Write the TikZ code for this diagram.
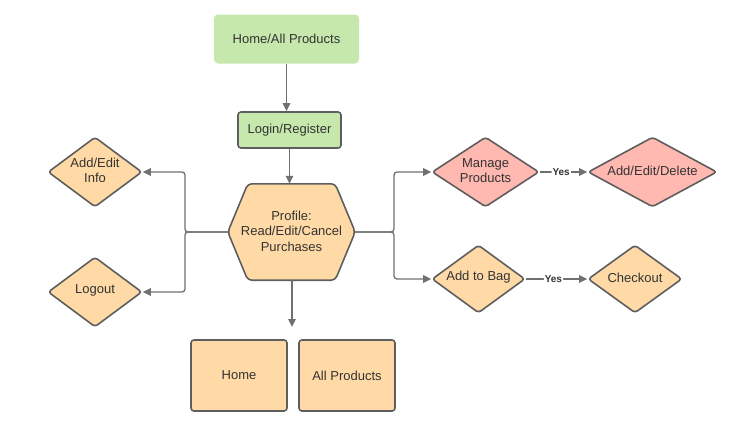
\documentclass[tikz,border=0pt]{standalone}
\usepackage{fontspec}
\setmainfont{Liberation Sans}
\usetikzlibrary{shapes.geometric,arrows.meta}
\definecolor{gfill}{HTML}{C7E8AC}
\definecolor{ofill}{HTML}{FFDAA6}
\definecolor{pfill}{HTML}{FFB9B1}
\definecolor{bord}{HTML}{5E5E5E}
\definecolor{lin}{HTML}{707070}
\definecolor{txt}{HTML}{333333}
\tikzset{
  base/.style={font=\fontsize{13}{15.5}\selectfont, text=txt, align=center, inner sep=0pt},
  box/.style={base, rectangle, rounded corners=3pt, draw=bord, line width=1.6pt},
  dia/.style={diamond, draw=bord, line width=1.6pt, rounded corners=3pt, inner sep=0pt},
  dlabel/.style={label={[base, yshift=1.5pt]center:#1}},
  conn/.style={draw=lin, line width=1.3pt, rounded corners=3pt, -{Triangle[length=8pt,width=7.5pt]}},
  yes/.style={font=\fontsize{10}{11}\selectfont\bfseries, text=txt, fill=white, inner sep=1pt}
}
\begin{document}
\begin{tikzpicture}[x=1pt,y=-1pt]
\useasboundingbox (0,0) rectangle (736,429);
\node[base, rectangle, rounded corners=4pt, fill=gfill, minimum width=145, minimum height=49] (home0) at (286.5,39) {Home/All Products};
\node[box, fill=gfill, minimum width=103, minimum height=36] (login) at (289.5,130) {Login/Register};
\node[base, rectangle, minimum width=127, minimum height=96] (prof) at (291.5,232) {};
\draw[bord, fill=ofill, line width=1.6pt, rounded corners=4pt]
  ([xshift=20pt]prof.north west) -- ([xshift=-20pt]prof.north east) -- (prof.east)
  -- ([xshift=-20pt]prof.south east) -- ([xshift=20pt]prof.south west) -- (prof.west) -- cycle;
\node[base, yshift=1pt] (proftext) at (prof) {Profile:\\Read/Edit/Cancel\\Purchases};
\node[dia, fill=ofill, minimum width=94, minimum height=70, dlabel={Add/Edit\\Info}] (addedit) at (95,172) {};
\node[dia, fill=ofill, minimum width=94, minimum height=70, dlabel={Logout}] (logout) at (95,292) {};
\node[dia, fill=pfill, minimum width=107, minimum height=70, dlabel={Manage\\Products}] (manage) at (485.5,172) {};
\node[dia, fill=pfill, minimum width=129, minimum height=70, dlabel={Add/Edit/Delete}] (aed) at (652.5,172) {};
\node[dia, fill=ofill, minimum width=93, minimum height=68, dlabel={Add to Bag}] (bag) at (478.5,279) {};
\node[dia, fill=ofill, minimum width=94, minimum height=68, dlabel={Checkout}] (checkout) at (635,279) {};
\node[box, fill=ofill, minimum width=96, minimum height=71] (homeb) at (239,375.5) {Home};
\node[box, fill=ofill, minimum width=96, minimum height=71] (allp) at (347,375.5) {All Products};
\coordinate (lj) at (185,232);
\coordinate (rj) at (394,232);
\coordinate (bend) at (292,327);
\draw[conn] (home0.south) -- (home0.south |- login.north);
\draw[conn] (login.south) -- (login.south |- prof.north);
\draw[conn] (prof.west) -- (lj) |- (addedit.east);
\draw[conn] (prof.west) -- (lj) |- (logout.east);
\draw[conn] (prof.east) -- (rj) |- (manage.west);
\draw[conn] (prof.east) -- (rj) |- (bag.west);
\draw[conn] (prof.south -| bend) -- (bend);
\draw[conn] (manage.east) -- node[yes, pos=0.45] {Yes} (aed.west);
\draw[conn] (bag.east) -- node[yes, pos=0.45] {Yes} (checkout.west);
\end{tikzpicture}
\end{document}
